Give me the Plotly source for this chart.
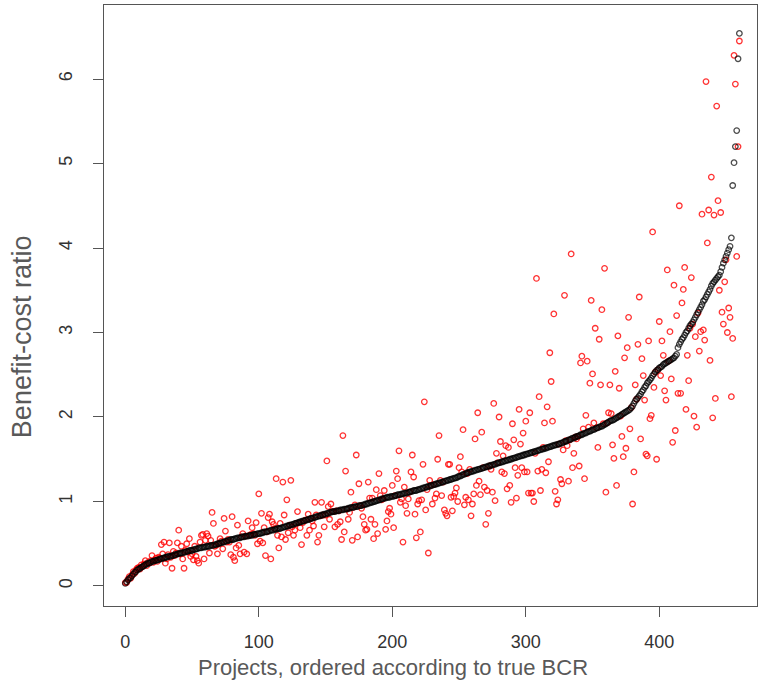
import plotly.graph_objects as go

# True BCR (sorted), one value per project
true_bcr = [
    0.03,0.05,0.07,0.09,0.10,0.12,0.14,0.16,0.17,0.19,
    0.20,0.21,0.22,0.23,0.24,0.25,0.26,0.27,0.27,0.28,
    0.29,0.29,0.30,0.30,0.31,0.31,0.32,0.32,0.33,0.33,
    0.34,0.34,0.35,0.35,0.35,0.36,0.36,0.37,0.37,0.38,
    0.38,0.39,0.39,0.39,0.40,0.40,0.41,0.41,0.42,0.42,
    0.42,0.43,0.43,0.44,0.44,0.45,0.45,0.45,0.46,0.46,
    0.46,0.47,0.47,0.47,0.48,0.48,0.48,0.49,0.49,0.50,
    0.50,0.51,0.51,0.52,0.52,0.53,0.53,0.54,0.54,0.55,
    0.55,0.55,0.56,0.56,0.57,0.57,0.57,0.58,0.58,0.58,
    0.59,0.59,0.59,0.60,0.60,0.60,0.61,0.61,0.61,0.62,
    0.62,0.62,0.63,0.63,0.64,0.64,0.64,0.65,0.65,0.66,
    0.66,0.66,0.67,0.67,0.68,0.68,0.68,0.69,0.69,0.70,
    0.70,0.71,0.71,0.72,0.72,0.73,0.73,0.74,0.74,0.75,
    0.75,0.76,0.76,0.77,0.77,0.78,0.78,0.79,0.79,0.80,
    0.80,0.81,0.81,0.82,0.82,0.83,0.83,0.84,0.84,0.85,
    0.85,0.86,0.86,0.87,0.87,0.88,0.88,0.88,0.89,0.89,
    0.89,0.90,0.90,0.90,0.91,0.91,0.91,0.92,0.92,0.93,
    0.93,0.93,0.94,0.94,0.94,0.95,0.95,0.95,0.96,0.96,
    0.97,0.97,0.98,0.98,0.99,0.99,1.00,1.00,1.01,1.01,
    1.02,1.02,1.03,1.03,1.04,1.04,1.05,1.05,1.05,1.06,
    1.06,1.06,1.07,1.07,1.08,1.08,1.08,1.09,1.09,1.10,
    1.10,1.10,1.11,1.11,1.12,1.12,1.13,1.13,1.13,1.14,
    1.14,1.15,1.15,1.16,1.16,1.17,1.17,1.18,1.18,1.19,
    1.19,1.20,1.20,1.21,1.21,1.22,1.22,1.23,1.23,1.24,
    1.24,1.25,1.25,1.26,1.26,1.27,1.27,1.28,1.28,1.29,
    1.30,1.30,1.31,1.32,1.32,1.33,1.34,1.34,1.35,1.35,
    1.36,1.36,1.37,1.37,1.38,1.38,1.39,1.39,1.40,1.40,
    1.41,1.41,1.42,1.42,1.43,1.43,1.44,1.44,1.45,1.45,
    1.46,1.46,1.47,1.47,1.48,1.48,1.49,1.49,1.50,1.50,
    1.51,1.51,1.52,1.52,1.53,1.53,1.54,1.54,1.55,1.55,
    1.56,1.56,1.57,1.57,1.58,1.58,1.59,1.59,1.60,1.60,
    1.61,1.61,1.62,1.62,1.63,1.63,1.64,1.64,1.65,1.65,
    1.66,1.66,1.67,1.67,1.68,1.68,1.69,1.69,1.70,1.71,
    1.71,1.72,1.73,1.73,1.74,1.75,1.75,1.76,1.77,1.77,
    1.78,1.79,1.79,1.80,1.81,1.81,1.82,1.83,1.83,1.84,
    1.85,1.85,1.86,1.87,1.87,1.88,1.89,1.89,1.90,1.91,
    1.92,1.93,1.94,1.95,1.96,1.96,1.97,1.98,1.99,2.00,
    2.01,2.02,2.03,2.04,2.05,2.06,2.07,2.08,2.09,2.11,
    2.13,2.16,2.19,2.21,2.23,2.25,2.27,2.30,2.32,2.35,
    2.37,2.40,2.42,2.44,2.46,2.49,2.51,2.53,2.55,2.56,
    2.58,2.59,2.60,2.62,2.63,2.64,2.65,2.66,2.67,2.68,
    2.69,2.70,2.72,2.74,2.82,2.86,2.89,2.92,2.94,2.97,
    3.00,3.02,3.05,3.08,3.10,3.12,3.15,3.18,3.21,3.24,
    3.27,3.30,3.33,3.37,3.39,3.42,3.45,3.48,3.51,3.55,
    3.58,3.60,3.62,3.64,3.66,3.68,3.72,3.77,3.82,3.86,
    3.90,3.94,3.98,4.02,4.12,4.74,5.01,5.20,5.39,6.24,
    6.54,
]

# Estimated BCR, one value per project (same order)
est_bcr = [
    0.04,0.04,0.08,0.11,0.09,0.13,0.17,0.15,0.19,0.21,
    0.22,0.20,0.25,0.23,0.26,0.30,0.24,0.28,0.27,0.30,
    0.36,0.28,0.31,0.33,0.29,0.34,0.33,0.49,0.38,0.52,
    0.27,0.32,0.37,0.51,0.34,0.21,0.41,0.36,0.39,0.51,
    0.66,0.38,0.47,0.32,0.21,0.42,0.50,0.40,0.56,0.35,
    0.38,0.31,0.47,0.35,0.30,0.27,0.52,0.60,0.61,0.32,
    0.54,0.62,0.59,0.39,0.54,0.87,0.74,0.47,0.48,0.38,
    0.50,0.56,0.53,0.44,0.80,0.65,0.52,0.55,0.52,0.37,
    0.82,0.34,0.30,0.45,0.72,0.48,0.38,0.58,0.62,0.40,
    0.59,0.38,0.77,0.60,0.61,0.69,0.62,0.60,0.75,0.50,
    1.09,0.53,0.86,0.51,0.69,0.36,0.64,0.81,0.85,0.32,
    0.76,0.73,0.68,1.27,0.60,0.45,0.74,0.58,1.23,0.84,
    0.55,1.02,0.63,0.72,1.25,0.70,0.60,0.66,0.74,0.88,
    0.75,0.69,0.49,0.75,0.77,0.78,0.60,0.85,0.66,0.80,
    0.77,0.71,0.99,0.84,0.52,0.60,0.83,0.99,0.84,0.70,
    0.84,1.48,0.94,0.79,0.97,0.88,0.88,0.70,0.89,0.73,
    0.89,0.76,0.55,1.78,0.64,1.36,0.91,0.79,0.87,1.11,
    0.54,0.93,0.96,1.55,0.58,1.21,0.95,0.92,0.82,0.73,
    0.66,0.67,1.23,1.04,0.79,1.04,0.56,0.73,1.14,0.62,
    1.33,1.07,1.02,1.03,1.13,0.67,0.77,0.88,0.92,0.85,
    1.19,0.69,1.07,1.36,1.27,1.60,0.99,1.03,0.52,1.17,
    0.95,0.86,1.03,1.11,1.35,1.55,1.29,0.85,0.57,0.97,
    1.01,0.64,1.02,1.44,2.18,0.90,1.14,0.39,1.25,1.19,
    0.97,1.20,1.04,1.09,1.50,1.78,1.25,1.07,1.23,0.90,
    0.86,0.83,1.44,1.44,1.05,0.89,1.06,1.10,1.16,1.00,
    1.40,1.53,1.35,1.85,0.96,1.05,1.33,1.02,1.38,0.83,
    0.97,1.09,1.74,1.19,2.05,1.24,1.08,1.82,1.40,1.17,
    0.73,1.13,0.86,1.42,1.38,1.11,2.16,1.01,1.57,1.46,
    2.00,1.71,1.35,1.54,1.33,1.66,1.15,1.64,1.19,0.99,
    1.92,1.73,1.40,1.04,1.31,2.09,1.68,1.40,1.81,1.35,
    1.95,1.35,1.10,2.05,1.10,1.10,1.00,1.57,3.64,1.36,
    2.24,1.13,1.38,1.64,1.93,1.34,2.12,1.47,2.76,2.42,
    1.95,3.22,1.12,0.97,1.02,1.68,1.26,1.21,1.61,3.44,
    1.72,1.66,1.24,1.73,3.93,1.40,1.57,1.76,1.74,1.77,
    1.42,2.64,2.72,1.86,1.27,2.02,2.66,1.88,2.40,3.38,
    2.51,1.93,3.05,1.87,1.64,2.92,2.38,3.27,1.92,3.76,
    1.11,1.93,2.05,2.38,2.04,1.67,1.51,2.54,1.19,2.96,
    2.34,2.01,1.77,1.53,2.70,1.63,2.82,3.18,1.86,2.11,
    0.97,1.35,2.38,2.21,2.86,3.42,1.74,2.69,2.49,2.20,
    1.56,1.54,2.90,1.98,2.02,4.19,2.35,2.53,1.50,2.56,
    3.13,2.49,2.90,2.73,2.31,2.20,3.74,2.66,3.01,2.45,
    1.70,3.56,1.84,3.20,2.28,4.50,2.28,3.35,3.51,3.77,
    2.09,2.73,2.43,3.05,3.65,3.10,2.01,2.95,1.88,3.23,
    2.78,3.01,4.40,3.03,2.91,5.97,4.06,4.45,2.67,4.84,
    1.99,4.39,2.22,5.68,4.56,3.50,4.42,3.24,3.10,3.60,
    3.86,3.00,3.29,3.18,2.24,2.93,6.28,5.94,3.90,5.20,
    6.45,
]

projects = list(range(len(true_bcr)))

x_ticks = [0, 100, 200, 300, 400]
y_ticks = [0, 1, 2, 3, 4, 5, 6]
x_title = "Projects, ordered according to true BCR"
y_title = "Benefit-cost ratio"

fig = go.Figure()
fig.add_trace(go.Scatter(
    x=projects, y=est_bcr, mode="markers",
    marker=dict(symbol="circle-open", size=5.5, color="rgba(255,0,0,0.8)",
                line=dict(width=1.3, color="rgba(255,0,0,0.8)")),
    showlegend=False, hoverinfo="skip"))
fig.add_trace(go.Scatter(
    x=projects, y=true_bcr, mode="markers",
    marker=dict(symbol="circle-open", size=5.5, color="rgba(0,0,0,0.7)",
                line=dict(width=1.3, color="rgba(0,0,0,0.7)")),
    showlegend=False, hoverinfo="skip"))

fam = "Liberation Sans, Arial, sans-serif"
axis_font = dict(family=fam, size=18, color="#333333")

fig.update_layout(
    width=758, height=684,
    margin=dict(l=104, r=1, t=5, b=78),
    paper_bgcolor="white", plot_bgcolor="white",
    xaxis=dict(
        range=[-15.96, 473.2], tickvals=x_ticks, ticktext=[str(v) for v in x_ticks],
        showgrid=False, zeroline=False, showline=True, mirror=True,
        linecolor="#555555", linewidth=1,
        ticks="outside", ticklen=10, tickwidth=1, tickcolor="#555555",
        tickfont=axis_font, ticklabelstandoff=9,
    ),
    yaxis=dict(
        range=[-0.237, 6.876], tickvals=y_ticks, ticktext=[str(v) for v in y_ticks],
        showgrid=False, zeroline=False, showline=True, mirror=True,
        linecolor="#555555", linewidth=1,
        ticks="outside", ticklen=10, tickwidth=1, tickcolor="#555555",
        tickfont=axis_font, tickangle=-90, ticklabelstandoff=14,
    ),
    annotations=[
        dict(text=x_title, xref="paper", yref="paper", x=0.4426, y=-0.1015,
             xanchor="center", yanchor="middle", showarrow=False,
             font=dict(family=fam, size=22, color="#595959")),
        dict(text=y_title, xref="paper", yref="paper", x=-0.1256, y=0.449,
             xanchor="center", yanchor="middle", showarrow=False, textangle=-90,
             font=dict(family=fam, size=27, color="#595959")),
    ],
)

fig.write_html("out.html")
